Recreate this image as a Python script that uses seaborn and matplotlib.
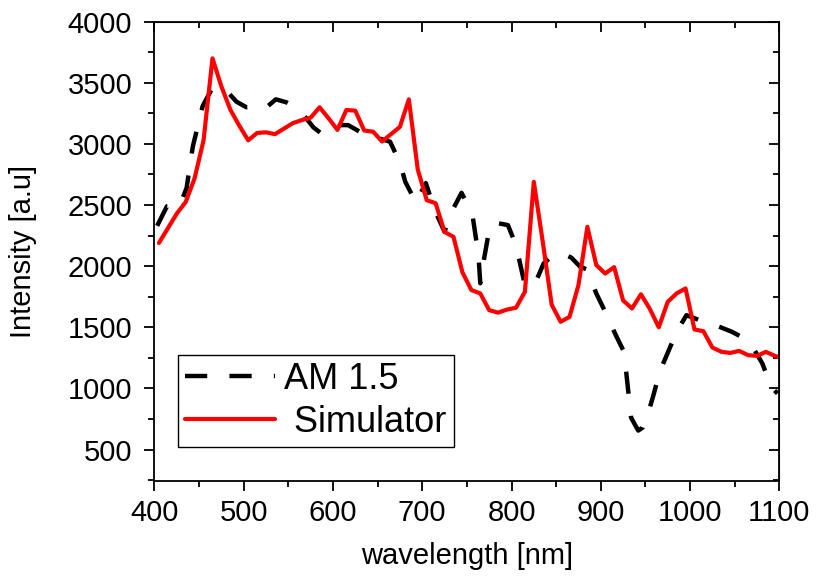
import numpy as np
import pandas as pd
import matplotlib
matplotlib.use("Agg")
import matplotlib.pyplot as plt
from matplotlib.ticker import MultipleLocator
import seaborn as sns

#  data 
sim_wavelength = [405, 415, 425, 435, 445, 455, 465, 475, 485, 495,
                  505, 515, 525, 535, 545, 555, 565, 575, 585, 595,
                  605, 615, 625, 635, 645, 655, 665, 675, 685, 695,
                  705, 715, 725, 735, 745, 755, 765, 775, 785, 795,
                  805, 815, 825, 835, 845, 855, 865, 875, 885, 895,
                  905, 915, 925, 935, 945, 955, 965, 975, 985, 995,
                  1005, 1015, 1025, 1035, 1045, 1055, 1065, 1075, 1085, 1095,
                  1100]
sim_intensity = [2190, 2310, 2430, 2525, 2720, 3030, 3700, 3470, 3280, 3150,
                 3030, 3090, 3095, 3080, 3125, 3170, 3195, 3215, 3300, 3210,
                 3115, 3278, 3272, 3110, 3100, 3020, 3080, 3140, 3365, 2790,
                 2540, 2515, 2280, 2240, 1950, 1805, 1777, 1640, 1620, 1645,
                 1660, 1790, 2690, 2200, 1685, 1545, 1585, 1845, 2322, 2009,
                 1940, 1992, 1720, 1654, 1770, 1650, 1500, 1708, 1777, 1818,
                 1482, 1468, 1335, 1300, 1290, 1307, 1272, 1266, 1299, 1266,
                 1255]

am_wavelength = [403, 414, 428, 436, 443, 454, 465, 472, 480, 492,
                 503, 514, 524, 536, 548, 561, 570, 578, 588, 598,
                 608, 617, 630, 641, 652, 664, 675, 681, 693, 704,
                 714, 725, 731, 744, 756, 763, 765, 768, 776, 786,
                 796, 805, 815, 820, 828, 836, 848, 858, 867, 877,
                 884, 895, 905, 916, 926, 929, 934, 942, 947, 953,
                 959, 966, 975, 985, 996, 1010, 1024, 1047, 1058, 1069,
                 1081, 1091, 1098]
am_intensity = [2330, 2490, 2490, 2640, 2980, 3310, 3460, 3455, 3440, 3345,
                3300, 3304, 3291, 3365, 3340, 3290, 3210, 3136, 3080, 3087,
                3154, 3154, 3100, 3073, 3045, 3018, 2846, 2690, 2520, 2680,
                2459, 2281, 2418, 2600, 2432, 2090, 1860, 2009, 2336, 2350,
                2336, 2172, 1845, 1830, 1886, 2022, 2100, 2100, 2070, 1995,
                1975, 1777, 1626, 1449, 1299, 1100, 760, 655, 680, 795,
                944, 1135, 1291, 1463, 1599, 1560, 1530, 1463, 1420, 1354,
                1204, 1012, 958]

am_df = pd.DataFrame({"wavelength": am_wavelength, "intensity": am_intensity})
sim_df = pd.DataFrame({"wavelength": sim_wavelength, "intensity": sim_intensity})

#  style 
sns.set_style("ticks")
plt.rcParams['font.family'] = ['Liberation Sans', 'DejaVu Sans']
plt.rcParams['text.color'] = "black"
plt.rcParams['axes.labelcolor'] = "black"
plt.rcParams['xtick.color'] = "black"
plt.rcParams['ytick.color'] = "black"

fig = plt.figure(figsize=(8.16, 5.79), dpi=100)
ax = fig.add_axes([0.1893, 0.1698, 0.7657, 0.7927])

sns.lineplot(data=am_df, x="wavelength", y="intensity", ax=ax,
             color="black", linewidth=3.2, linestyle=(0, (5, 5)),
             label="AM 1.5")
sns.lineplot(data=sim_df, x="wavelength", y="intensity", ax=ax,
             color="#ff0000", linewidth=3.0, label=" Simulator")

ax.set_xlim(400, 1100)
ax.set_ylim(245, 4000)
ax.xaxis.set_major_locator(MultipleLocator(100))
ax.xaxis.set_minor_locator(MultipleLocator(50))
ax.yaxis.set_major_locator(MultipleLocator(500))
ax.yaxis.set_minor_locator(MultipleLocator(250))

for side in ax.spines.values():
    side.set_linewidth(1.3)
    side.set_color("black")

# outward ticks on bottom/left
ax.tick_params(which="major", direction="out", length=7, width=1.3,
               labelsize=21, colors="black")
ax.tick_params(which="minor", direction="out", length=4, width=1.3)
ax.tick_params(axis="x", which="major", pad=6)
ax.tick_params(axis="y", which="major", pad=9)

# inward ticks on top/right, no labels
top = ax.secondary_xaxis("top")
top.xaxis.set_major_locator(MultipleLocator(100))
top.xaxis.set_minor_locator(MultipleLocator(50))
top.tick_params(which="major", direction="in", length=7, width=1.3, labeltop=False)
top.tick_params(which="minor", direction="in", length=4, width=1.3)
right = ax.secondary_yaxis("right")
right.yaxis.set_major_locator(MultipleLocator(500))
right.yaxis.set_minor_locator(MultipleLocator(250))
right.tick_params(which="major", direction="in", length=7, width=1.3, labelright=False)
right.tick_params(which="minor", direction="in", length=4, width=1.3)

ax.set_xlabel("wavelength [nm]", fontsize=21, labelpad=11)
ax.set_ylabel("Intensity [a.u]", fontsize=21, labelpad=22)

leg = ax.legend(loc="lower left", bbox_to_anchor=(0.0376, 0.0734),
                borderaxespad=0, fontsize=26, handlelength=2.5,
                handletextpad=0.25, labelspacing=0.22, borderpad=0.2,
                fancybox=False, framealpha=1)
leg.get_frame().set_edgecolor("black")
leg.get_frame().set_linewidth(1.0)
for t in leg.get_texts():
    t.set_color("black")

fig.savefig("out.png", dpi=100)
